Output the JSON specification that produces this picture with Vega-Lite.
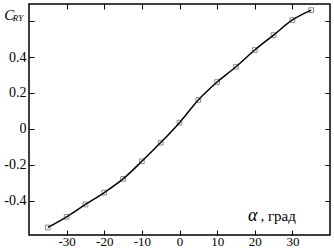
{
  "$schema": "https://vega.github.io/schema/vega-lite/v6.json",
  "width": 301,
  "height": 231,
  "autosize": "none",
  "padding": {"left": 29, "top": 4, "right": 4, "bottom": 14},
  "background": "white",
  "config": {
    "view": {"stroke": "black", "strokeWidth": 1.5},
    "axis": {
      "grid": false,
      "domain": false,
      "tickColor": "black",
      "tickSize": -5,
      "tickWidth": 1,
      "labelFont": "Liberation Serif",
      "labelFontSize": 14,
      "labelColor": "black",
      "title": null
    }
  },
  "datasets": {
    "pts": [
      {"a": -35, "c": -0.548},
      {"a": -30, "c": -0.489},
      {"a": -25, "c": -0.42},
      {"a": -20, "c": -0.354},
      {"a": -15, "c": -0.278},
      {"a": -10, "c": -0.18},
      {"a": -5, "c": -0.076},
      {"a": 0, "c": 0.035},
      {"a": 5, "c": 0.161},
      {"a": 10, "c": 0.261},
      {"a": 15, "c": 0.346},
      {"a": 20, "c": 0.439},
      {"a": 25, "c": 0.522},
      {"a": 30, "c": 0.606},
      {"a": 35, "c": 0.661}
    ],
    "italic": [
      {"a": -46.6, "c": 0.606, "t": "C", "s": 15},
      {"a": -44.3, "c": 0.598, "t": "RY", "s": 9},
      {"a": 18.2, "c": -0.512, "t": "α", "s": 18}
    ],
    "upright": [
      {"a": 21.5, "c": -0.512, "t": ", град", "s": 15}
    ]
  },
  "layer": [
    {
      "data": {"name": "pts"},
      "mark": {"type": "line", "interpolate": "monotone", "color": "black", "strokeWidth": 1.5},
      "encoding": {
        "x": {"field": "a", "type": "quantitative", "scale": {"domain": [-40, 40], "nice": false, "zero": false},
          "axis": {"orient": "bottom", "values": [-30, -20, -10, 0, 10, 20, 30], "labelPadding": 5, "labelFontSize": 13, "labelExpr": "toString(datum.value)"}},
        "y": {"field": "c", "type": "quantitative", "scale": {"domain": [-0.59, 0.695], "nice": false, "zero": false},
          "axis": {"orient": "left", "values": [-0.4, -0.2, 0, 0.2, 0.4, 0.6], "labelPadding": 8, "labelExpr": "datum.value > 0.5 ? '' : toString(datum.value)"}}
      }
    },
    {
      "data": {"name": "pts"},
      "mark": {"type": "point", "shape": "square", "filled": false, "color": "#333", "size": 22, "strokeWidth": 0.8},
      "encoding": {
        "x": {"field": "a", "type": "quantitative",
          "axis": {"orient": "top", "values": [-30, -20, -10, 0, 10, 20, 30], "labels": false}},
        "y": {"field": "c", "type": "quantitative",
          "axis": {"orient": "right", "values": [-0.4, -0.2, 0, 0.2, 0.4, 0.6], "labels": false}}
      }
    },
    {
      "data": {"name": "italic"},
      "mark": {"type": "text", "font": "Liberation Serif", "fontStyle": "italic", "align": "left", "baseline": "alphabetic", "color": "black"},
      "encoding": {
        "x": {"field": "a", "type": "quantitative", "axis": null},
        "y": {"field": "c", "type": "quantitative", "axis": null},
        "text": {"field": "t"},
        "size": {"field": "s", "type": "quantitative", "scale": null}
      }
    },
    {
      "data": {"name": "upright"},
      "mark": {"type": "text", "font": "Liberation Serif", "align": "left", "baseline": "alphabetic", "color": "black"},
      "encoding": {
        "x": {"field": "a", "type": "quantitative", "axis": null},
        "y": {"field": "c", "type": "quantitative", "axis": null},
        "text": {"field": "t"},
        "size": {"field": "s", "type": "quantitative", "scale": null}
      }
    }
  ]
}
